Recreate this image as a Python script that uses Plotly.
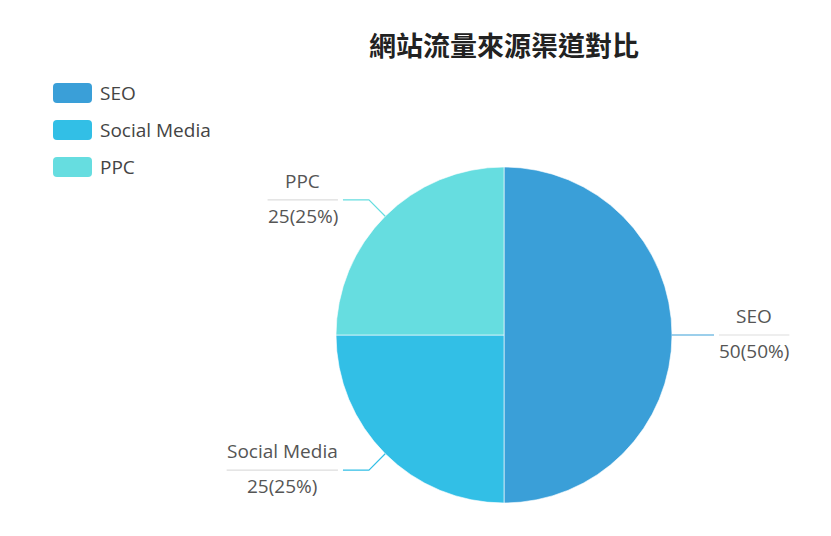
import math
import plotly.graph_objects as go

# ---- data ----
title_text = "網站流量來源渠道對比"
labels = ["SEO", "Social Media", "PPC"]
values = [50, 25, 25]
colors = ["#3a9fd8", "#32bfe6", "#66dde0"]

W, H = 831, 536
CX, CY, R = 504, 335, 168  # pie centre / radius in pixels

def fx(x):
    return x / W

def fy(y):
    return 1 - y / H

LABEL_FONT = "Open Sans, Noto Sans, sans-serif"
LABEL_SIZE = 19
TEXT_COLOR = "#555555"

# approximate advance widths (em) for Open Sans
CW = {"0": .572, "1": .572, "2": .572, "3": .572, "4": .572, "5": .572, "6": .572,
      "7": .572, "8": .572, "9": .572, "(": .296, ")": .296, "%": .824, " ": .26,
      "S": .549, "E": .556, "O": .778, "P": .603, "C": .632, "M": .907,
      "o": .602, "c": .479, "i": .258, "a": .556, "l": .258, "e": .561, "d": .613}

def text_w(s, size):
    return sum(CW.get(ch, .56) for ch in s) * size

fig = go.Figure()
fig.add_trace(go.Pie(
    labels=labels, values=values, sort=False, direction="clockwise", rotation=0,
    marker=dict(colors=colors, line=dict(color="rgba(255,255,255,0.6)", width=1)),
    textinfo="none", hoverinfo="label+value+percent", showlegend=False,
    domain=dict(x=[fx(CX - R), fx(CX + R)], y=[fy(CY + R), fy(CY - R)]),
))

shapes = []
annotations = []

total = sum(values)
cum = 0
for lab, val, col in zip(labels, values, colors):
    mid = (cum + val / 2) / total * 2 * math.pi
    cum += val
    sx, cx_ = math.sin(mid), math.cos(mid)
    p1 = (CX + R * sx, CY - R * cx_)
    p2 = (CX + (R + 23) * sx, CY - (R + 23) * cx_)
    side = 1 if sx >= 0 else -1
    h2 = 19 if abs(cx_) < 0.1 else 26
    p3 = (p2[0] + side * h2, p2[1])
    shapes.append(dict(type="path", xref="paper", yref="paper",
                       path=f"M {fx(p1[0])},{fy(p1[1])} L {fx(p2[0])},{fy(p2[1])} L {fx(p3[0])},{fy(p3[1])}",
                       line=dict(color=col, width=1.2)))
    pct = f"{val}({round(val / total * 100)}%)"
    uw = max(text_w(lab, LABEL_SIZE), text_w(pct, LABEL_SIZE))
    ux0 = p3[0] + side * 5
    ux1 = ux0 + side * uw
    shapes.append(dict(type="line", xref="paper", yref="paper",
                       x0=fx(ux0), x1=fx(ux1), y0=fy(p3[1]), y1=fy(p3[1]),
                       line=dict(color="#dddddd", width=1.2)))
    xc = (ux0 + ux1) / 2
    annotations.append(dict(x=fx(xc), y=fy(p3[1] - 4), xref="paper", yref="paper",
                            text=lab, showarrow=False, xanchor="center", yanchor="bottom",
                            font=dict(family=LABEL_FONT, size=LABEL_SIZE, color=TEXT_COLOR)))
    annotations.append(dict(x=fx(xc), y=fy(p3[1] + 1), xref="paper", yref="paper",
                            text=pct, showarrow=False, xanchor="center", yanchor="top",
                            font=dict(family=LABEL_FONT, size=LABEL_SIZE, color=TEXT_COLOR)))

# custom legend
LX0, LX1, LH, LY0, LSTEP, RAD = 53, 92, 20, 83, 37, 4
for i, (lab, col) in enumerate(zip(labels, colors)):
    y0 = LY0 + i * LSTEP
    y1 = y0 + LH
    x0, x1 = LX0, LX1
    pts = [
        f"M {fx(x0 + RAD)},{fy(y0)}",
        f"L {fx(x1 - RAD)},{fy(y0)}",
        f"Q {fx(x1)},{fy(y0)} {fx(x1)},{fy(y0 + RAD)}",
        f"L {fx(x1)},{fy(y1 - RAD)}",
        f"Q {fx(x1)},{fy(y1)} {fx(x1 - RAD)},{fy(y1)}",
        f"L {fx(x0 + RAD)},{fy(y1)}",
        f"Q {fx(x0)},{fy(y1)} {fx(x0)},{fy(y1 - RAD)}",
        f"L {fx(x0)},{fy(y0 + RAD)}",
        f"Q {fx(x0)},{fy(y0)} {fx(x0 + RAD)},{fy(y0)} Z",
    ]
    shapes.append(dict(type="path", xref="paper", yref="paper", path=" ".join(pts),
                       fillcolor=col, line=dict(width=0)))
    annotations.append(dict(x=fx(98), y=fy((y0 + y1) / 2), xref="paper", yref="paper",
                            text=lab, showarrow=False, xanchor="left", yanchor="middle",
                            font=dict(family=LABEL_FONT, size=LABEL_SIZE, color="#444444")))

fig.update_layout(
    width=W, height=H,
    margin=dict(l=0, r=0, t=0, b=0),
    paper_bgcolor="white", plot_bgcolor="white",
    title=dict(text=f"<b>{title_text}</b>", x=fx(504), xanchor="center",
               y=fy(47), yanchor="middle",
               font=dict(family="Noto Sans CJK TC, Noto Sans CJK SC, sans-serif", size=27, color="#222222")),
    shapes=shapes, annotations=annotations,
)

fig.write_html("out.html", config={"displayModeBar": False},
               post_script="document.body.style.margin='0';document.body.style.overflow='hidden';")
